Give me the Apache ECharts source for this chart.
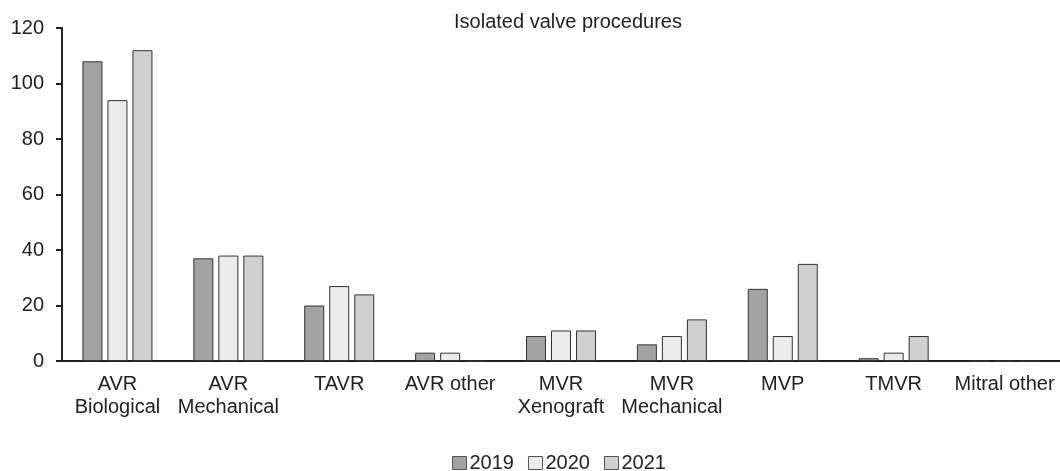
<!DOCTYPE html>
<html>
<head>
<meta charset="utf-8">
<script src="https://cdn.jsdelivr.net/npm/echarts@6/dist/echarts.min.js"></script>
<style>
  html, body { margin: 0; padding: 0; background: #fff; }
  #chart { width: 1060px; height: 471px; }
</style>
</head>
<body>
<div id="chart"></div>
<script>
// categories and values
const categories = ['AVR\nBiological', 'AVR\nMechanical', 'TAVR', 'AVR other', 'MVR\nXenograft', 'MVR\nMechanical', 'MVP', 'TMVR', 'Mitral other']
const years = ['2019', '2020', '2021']
const v2019 = [108, 37, 20, 3, 9, 6, 26, 1, 0]
const v2020 = [94, 38, 27, 3, 11, 9, 9, 3, 0]
const v2021 = [112, 38, 24, 0, 11, 15, 35, 9, 0]
const yTicks = [0, 20, 40, 60, 80, 100, 120]

const colors = ['#a3a3a3', '#ebebeb', '#d0d0d0']
const font = 'Liberation Sans, Arial, sans-serif'

const chart = echarts.init(document.getElementById('chart'))

const mkSeries = (name, data, i) => ({
  name: name,
  type: 'bar',
  data: data,
  barWidth: 20,
  barGap: '25%',
  itemStyle: {
    color: colors[i],
    borderColor: '#333',
    borderWidth: 1
  }
})

chart.setOption({
  animation: false,
  title: {
    text: 'Isolated valve procedures',
    left: 563,
    top: 7,
    textAlign: 'center',
    textStyle: { fontFamily: font, fontSize: 20, fontWeight: 'normal', color: '#222' }
  },
  grid: { left: 62, right: 0, top: 28, bottom: 110 },
  legend: {
    bottom: -7,
    left: 447,
    itemWidth: 14,
    itemHeight: 13,
    itemGap: 14,
    icon: 'rect',
    textStyle: { fontFamily: font, fontSize: 20, color: '#222', padding: [0, 0, 0, -2] },
    itemStyle: { borderColor: '#555', borderWidth: 1 },
    data: years
  },
  xAxis: {
    type: 'category',
    data: categories,
    axisLine: { lineStyle: { color: '#222', width: 2 } },
    axisTick: { show: false },
    axisLabel: {
      fontFamily: font, fontSize: 20, color: '#222',
      lineHeight: 23, margin: 12, interval: 0
    }
  },
  yAxis: {
    type: 'value',
    min: yTicks[0],
    max: yTicks[yTicks.length - 1],
    interval: 20,
    splitLine: { show: false },
    axisLine: { show: true, lineStyle: { color: '#222', width: 2 } },
    axisTick: { show: true, length: 6, lineStyle: { color: '#222', width: 2 } },
    axisLabel: { fontFamily: font, fontSize: 20, color: '#222', margin: 18 }
  },
  series: [
    mkSeries(years[0], v2019, 0),
    mkSeries(years[1], v2020, 1),
    mkSeries(years[2], v2021, 2)
  ]
})
</script>
</body>
</html>
